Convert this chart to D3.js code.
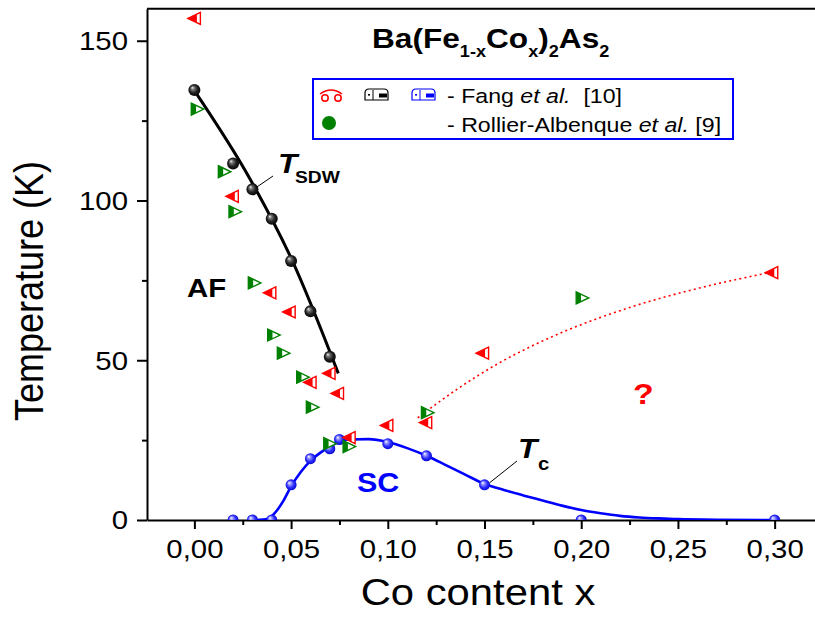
<!DOCTYPE html>
<html>
<head>
<meta charset="utf-8">
<script src="https://cdn.jsdelivr.net/npm/d3@7"></script>
<style>
  body { margin: 0; background: #fff; }
  text { font-family: Arial, "Liberation Sans", sans-serif; white-space: pre; }
</style>
</head>
<body>
<script>
var width = 815,
    height = 617,
    sx = 1.13; // the original figure is a bit stretched sideways

// T_SDW (black spheres) and the line drawn through them
var sdwX = [0, 0.02, 0.03, 0.04, 0.05, 0.06, 0.07];
var sdwT = [134.6, 111.6, 103.5, 94.3, 81.1, 65.3, 51.1];
var sdwFitX = [0, 0.0289, 0.0506, 0.0744];
var sdwFitT = [134.4, 106.6, 81.2, 45.9];

// T_c (blue spheres) and the fitted curve
var tcX = [0.02, 0.03, 0.04, 0.05, 0.06, 0.07, 0.075, 0.10, 0.12, 0.15, 0.20, 0.30];
var tcT = [0, 0, 0, 11.0, 19.2, 22.3, 25.2, 23.9, 20.1, 11.0, 0, 0];
var tcFitX = [0.032, 0.038, 0.042, 0.046, 0.05, 0.055, 0.06, 0.065, 0.07, 0.075, 0.08, 0.09,
              0.10, 0.11, 0.12, 0.13, 0.14, 0.15, 0.16, 0.17, 0.18, 0.19, 0.20, 0.21,
              0.22, 0.23, 0.24, 0.25, 0.27, 0.30];
var tcFitT = [0, 0.4, 2.5, 6, 10.5, 15, 18.5, 21, 23, 24.5, 25.2, 25.3,
              24.4, 22.5, 20.1, 17.2, 14.2, 11.3, 9.4, 7.7, 6.1, 4.5, 3.1, 2.1,
              1.3, 0.8, 0.5, 0.3, 0.1, 0];

// Fang et al. [10] - red left triangles
var fangX = [0.0, 0.0196, 0.039, 0.049, 0.0598, 0.0696, 0.074, 0.080, 0.0995, 0.1196, 0.149, 0.2985];
var fangT = [157, 101.3, 71.1, 65.1, 43.1, 45.9, 39.6, 25.8, 29.6, 30.5, 52.2, 77.4];

// Rollier-Albenque et al. [9] - green right triangles
var rollX = [0.0015, 0.0155, 0.021, 0.031, 0.041, 0.046, 0.056, 0.061, 0.070, 0.080, 0.1205, 0.2005];
var rollT = [128.6, 109, 96.5, 74.2, 57.9, 52.2, 44.7, 35.3, 23.9, 23, 33.6, 69.5];

// dotted red guess line
var guessX = [0.1155, 0.125, 0.136, 0.158, 0.175, 0.192, 0.226, 0.261, 0.297];
var guessT = [32, 36.3, 41, 49.3, 54.6, 59.2, 66.7, 72.6, 77.4];

// ticks
var xTicks = [0, 0.05, 0.10, 0.15, 0.20, 0.25, 0.30];
var xMinor = [0.025, 0.075, 0.125, 0.175, 0.225, 0.275];
var yTicks = [0, 50, 100, 150];
var yMinor = [25, 75, 125];

var x = d3.scaleLinear().domain([-0.0245, 0.325]).range([147, 823]);
var y = d3.scaleLinear().domain([0, 160]).range([520, 8.8]);

var svg = d3.select("body")
  .append("svg")
  .attr("width", width)
  .attr("height", height);

var defs = svg.append("defs");
defs.append("clipPath").attr("id", "plot")
  .append("rect")
  .attr("x", x.range()[0]).attr("y", y.range()[1])
  .attr("width", x.range()[1] - x.range()[0])
  .attr("height", y.range()[0] - y.range()[1]);

function sphere(id, stops) {
  var g = defs.append("radialGradient").attr("id", id)
    .attr("cx", "50%").attr("cy", "50%").attr("r", "55%")
    .attr("fx", "32%").attr("fy", "30%");
  stops.forEach(function(s) {
    g.append("stop").attr("offset", s[0]).attr("stop-color", s[1]);
  });
}
sphere("blackBall", [["0%", "#f2f2f2"], ["25%", "#777"], ["60%", "#222"], ["100%", "#000"]]);
sphere("blueBall", [["0%", "#ffffff"], ["25%", "#9a9aff"], ["60%", "#3030ff"], ["100%", "#0000c8"]]);

function zip(a, b) { return a.map(function(v, i) { return [v, b[i]]; }); }

var line = d3.line()
  .x(function(d) { return x(d[0]); })
  .y(function(d) { return y(d[1]); })
  .curve(d3.curveMonotoneX);

// axes
var xAxis = svg.append("g")
  .attr("transform", "translate(0," + y(0) + ")")
  .call(d3.axisBottom(x).tickValues(xTicks).tickSize(9).tickSizeOuter(0)
    .tickFormat(function(d) { return d3.format(".2f")(d).replace(".", ","); }));
svg.append("g")
  .attr("transform", "translate(0," + y(0) + ")")
  .call(d3.axisBottom(x).tickValues(xMinor).tickSize(5).tickSizeOuter(0).tickFormat(""))
  .select(".domain").remove();
xAxis.selectAll("text")
  .attr("y", 0).attr("dy", 0)
  .attr("transform", "translate(0,37.5) scale(" + sx + ",1)")
  .attr("font-size", 26).attr("fill", "#000");

var yAxis = svg.append("g")
  .attr("transform", "translate(" + x.range()[0] + ",0)")
  .call(d3.axisLeft(y).tickValues(yTicks).tickSize(10).tickSizeOuter(0));
svg.append("g")
  .attr("transform", "translate(" + x.range()[0] + ",0)")
  .call(d3.axisLeft(y).tickValues(yMinor).tickSize(5).tickSizeOuter(0).tickFormat(""))
  .select(".domain").remove();
yAxis.selectAll("text")
  .attr("x", 0).attr("dy", "0.34em")
  .attr("transform", "translate(-19,0) scale(" + sx + ",1)")
  .attr("font-size", 26).attr("fill", "#000");

svg.selectAll(".domain, .tick line")
  .attr("stroke", "#000").attr("stroke-width", 2);

// top frame line
svg.append("line")
  .attr("x1", x.range()[0]).attr("x2", width)
  .attr("y1", y(160)).attr("y2", y(160))
  .attr("stroke", "#000").attr("stroke-width", 2);

// axis titles
svg.append("text")
  .attr("transform", "translate(478,605) scale(" + sx + ",1)")
  .attr("text-anchor", "middle").attr("font-size", 37)
  .text("Co content x");
svg.append("text")
  .attr("transform", "translate(43,291) scale(" + sx + ",1) rotate(-90)")
  .attr("text-anchor", "middle").attr("font-size", 36)
  .text("Temperature (K)");

var plot = svg.append("g").attr("clip-path", "url(#plot)");

// curves
plot.append("path").datum(zip(guessX, guessT))
  .attr("d", line).attr("fill", "none")
  .attr("stroke", "#ff0000").attr("stroke-width", 1.6)
  .attr("stroke-dasharray", "2,3.2");
plot.append("path").datum(zip(tcFitX, tcFitT))
  .attr("d", line).attr("fill", "none")
  .attr("stroke", "#0000ff").attr("stroke-width", 2.6);
plot.append("path").datum(zip(sdwFitX, sdwFitT))
  .attr("d", line).attr("fill", "none")
  .attr("stroke", "#000").attr("stroke-width", 3);

// spheres
plot.append("g").selectAll("circle")
  .data(zip(tcX, tcT))
  .enter().append("circle")
  .attr("cx", function(d) { return x(d[0]); })
  .attr("cy", function(d) { return y(d[1]); })
  .attr("r", 5.5)
  .attr("fill", "url(#blueBall)");
plot.append("g").selectAll("circle")
  .data(zip(sdwX, sdwT))
  .enter().append("circle")
  .attr("cx", function(d) { return x(d[0]); })
  .attr("cy", function(d) { return y(d[1]); })
  .attr("r", 6)
  .attr("fill", "url(#blackBall)");

// half filled triangles
var green = plot.append("g").selectAll("g")
  .data(zip(rollX, rollT))
  .enter().append("g")
  .attr("transform", function(d) { return "translate(" + x(d[0]) + "," + y(d[1]) + ")"; });
green.append("path")
  .attr("d", "M-6,-6L6.5,0L-6,6Z")
  .attr("fill", "#fff").attr("stroke", "#008000").attr("stroke-width", 1.4);
green.append("path")
  .attr("d", "M-6,-6L-1.2,-3.7L-1.2,3.7L-6,6Z")
  .attr("fill", "#008000");

var red = plot.append("g").selectAll("g")
  .data(zip(fangX, fangT))
  .enter().append("g")
  .attr("transform", function(d) { return "translate(" + x(d[0]) + "," + y(d[1]) + ")"; });
red.append("path")
  .attr("d", "M-6.5,0L6,-6L6,6Z")
  .attr("fill", "#fff").attr("stroke", "#ff0000").attr("stroke-width", 1.4);
red.append("path")
  .attr("d", "M-6.5,0L2.5,-4.3L2.5,4.3Z")
  .attr("fill", "#ff0000");

// title
var title = svg.append("text")
  .attr("transform", "translate(372,48) scale(" + sx + ",1)")
  .attr("font-size", 28).attr("font-weight", "bold");
[["Ba(Fe", 0], ["1-x", 1], ["Co", 0], ["x", 1], [")", 0], ["2", 1], ["As", 0], ["2", 1]]
  .forEach(function(p, i, arr) {
    var prev = i > 0 ? arr[i - 1][1] : 0;
    title.append("tspan")
      .attr("font-size", p[1] ? 16 : 28)
      .attr("dy", (p[1] - prev) * 9)
      .text(p[0]);
  });

// annotations
function label(px, py, size, txt, opts) {
  opts = opts || {};
  return svg.append("text")
    .attr("transform", "translate(" + px + "," + py + ") scale(" + sx + ",1)")
    .attr("font-size", size)
    .attr("font-weight", "bold")
    .attr("font-style", opts.italic ? "italic" : null)
    .attr("fill", opts.color || "#000")
    .text(txt);
}
label(278, 173, 28, "T", {italic: true});
label(295, 183, 17, "SDW");
label(518, 458, 28, "T", {italic: true});
label(538, 470, 18, "c");
label(187, 297, 26, "AF");
label(357, 492, 27, "SC", {color: "#0000ff"});
label(633, 404, 30, "?", {color: "#ff0000"});

svg.append("line")
  .attr("x1", x(0.03) + 4).attr("y1", y(103.5) - 2)
  .attr("x2", 273).attr("y2", 176)
  .attr("stroke", "#000").attr("stroke-width", 1);
svg.append("line")
  .attr("x1", x(0.15) + 5).attr("y1", y(11) - 2)
  .attr("x2", 517).attr("y2", 461)
  .attr("stroke", "#000").attr("stroke-width", 1);

// legend
var legend = svg.append("g");
legend.append("rect")
  .attr("x", 313).attr("y", 79).attr("width", 420).attr("height", 60)
  .attr("fill", "#fff").attr("stroke", "#0000ff").attr("stroke-width", 2);

// the crab-like glyph of the old symbol font, drawn by hand
var crab = legend.append("g").attr("fill", "none").attr("stroke", "#ff0000").attr("stroke-width", 1.5);
crab.append("path").attr("d", "M320,94Q331,86 342,94");
crab.append("circle").attr("cx", 325).attr("cy", 98).attr("r", 3.2);
crab.append("circle").attr("cx", 338).attr("cy", 98).attr("r", 3.2);

function mailbox(px, py, color) {
  var m = legend.append("g").attr("transform", "translate(" + px + "," + py + ")");
  m.append("path")
    .attr("d", "M0,11V4Q0,0 4,0H19Q23,0 23,4V11Z")
    .attr("fill", "#fff").attr("stroke", color).attr("stroke-width", 1.2);
  m.append("line").attr("x1", 8).attr("x2", 8).attr("y1", 1).attr("y2", 11)
    .attr("stroke", color).attr("stroke-width", 1);
  m.append("rect").attr("x", 3).attr("y", 5).attr("width", 2).attr("height", 1.6).attr("fill", color);
  m.append("rect").attr("x", 14).attr("y", 4.5).attr("width", 8).attr("height", 4).attr("fill", color);
}
mailbox(365, 89, "#000");
mailbox(412, 89, "#0000ff");

legend.append("circle")
  .attr("cx", 329).attr("cy", 123).attr("r", 7)
  .attr("fill", "#008000");

var l1 = legend.append("text")
  .attr("transform", "translate(447,103) scale(" + sx + ",1)")
  .attr("font-size", 20.5);
l1.append("tspan").text("- Fang ");
l1.append("tspan").attr("font-style", "italic").text("et al.");
l1.append("tspan").text("  [10]");

var l2 = legend.append("text")
  .attr("transform", "translate(447,132) scale(" + sx + ",1)")
  .attr("font-size", 20.5);
l2.append("tspan").text("- Rollier-Albenque ");
l2.append("tspan").attr("font-style", "italic").text("et al.");
l2.append("tspan").text(" [9]");
</script>
</body>
</html>
